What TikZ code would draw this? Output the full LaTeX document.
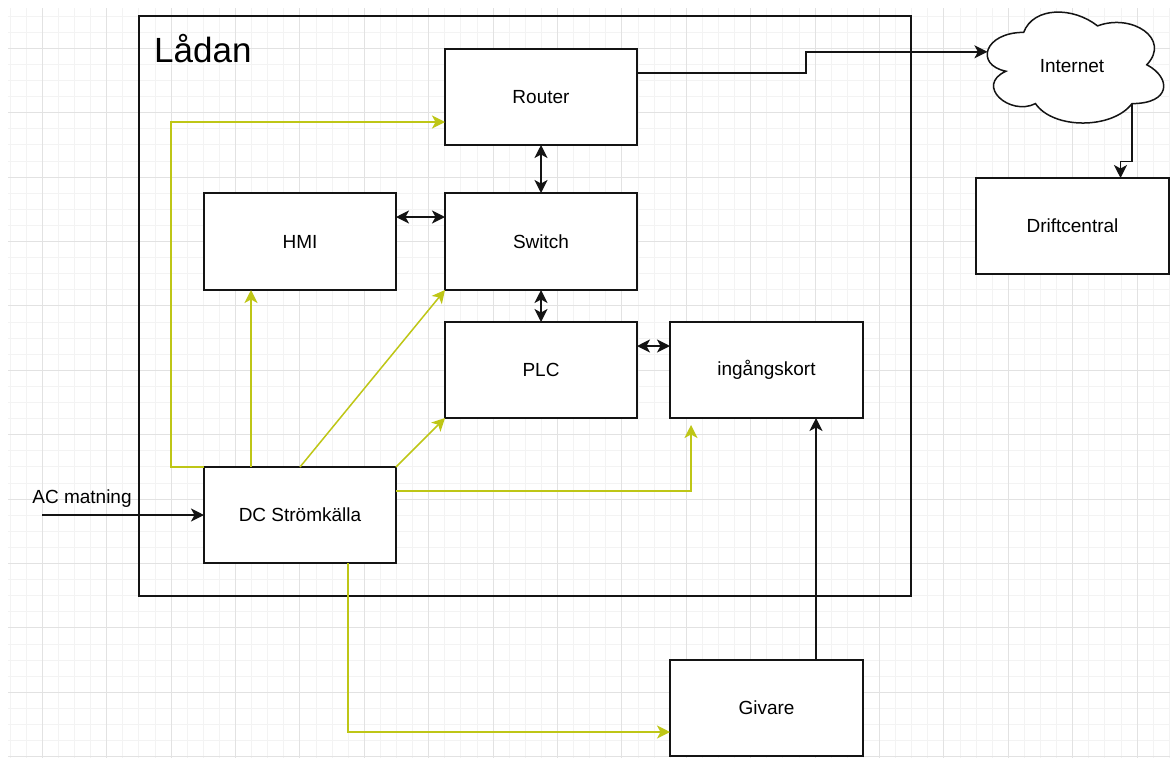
\documentclass[tikz,border=0pt]{standalone}
\usepackage{fontspec}
\setmainfont{Liberation Sans}
\usetikzlibrary{arrows.meta,calc}
\definecolor{ylw}{RGB}{190,198,22}
\definecolor{gminor}{RGB}{243,243,243}
\definecolor{gmajor}{RGB}{226,226,226}
\definecolor{edge}{RGB}{20,20,20}
\begin{document}
\begin{tikzpicture}[x=1pt,y=-1pt,
  box/.style={draw=edge, line width=1.5pt, fill=white, minimum width=192pt, minimum height=96pt,
    inner sep=0pt, outer sep=0pt, font=\fontsize{19}{22}\selectfont},
  conn/.style={draw=edge, line width=1.5pt, -{Stealth[length=13pt,width=13pt,inset=3.5pt]}},
  bidir/.style={draw=edge, line width=1.5pt, {Stealth[length=13pt,width=13pt,inset=3.5pt]}-{Stealth[length=13pt,width=13pt,inset=3.5pt]}},
  pwr/.style={draw=ylw, line width=1.5pt, -{Stealth[length=13pt,width=13pt,inset=3.5pt,color=ylw]}},
  lbl/.style={font=\fontsize{19}{22}\selectfont, inner sep=0pt}
]
\useasboundingbox[fill=white] (0,0) rectangle (1170,758);
% grid
\begin{scope}
\clip (8,8) rectangle (1170,758);
\foreach \i in {0,...,72} \draw[gminor, line width=1pt] (10.1+16.1*\i,8) -- (10.1+16.1*\i,758);
\foreach \i in {0,...,46} \draw[gminor, line width=1pt] (8,16.1+16.1*\i) -- (1170,16.1+16.1*\i);
\foreach \i in {0,...,17} \draw[gmajor, line width=1pt] (42.3+64.4*\i,8) -- (42.3+64.4*\i,758);
\foreach \i in {0,...,11} \draw[gmajor, line width=1pt] (8,48.3+64.4*\i) -- (1170,48.3+64.4*\i);
\end{scope}

% outer box
\node[draw=edge, line width=1.5pt, minimum width=772pt, minimum height=580pt, inner sep=0pt, outer sep=0pt] (ladan) at (525,306) {};
\node[anchor=base west, inner sep=0pt, font=\fontsize{35}{40}\selectfont] (ladant) at (154,62) {Lådan};

% cloud
\begin{scope}[shift={(974.4,0)}, x=197pt, y=-129.5pt]
\draw[edge, line width=1.5pt, fill=white] (0.25,0.25)
  .. controls (0.05,0.25) and (0,0.5) .. (0.16,0.55)
  .. controls (0,0.66) and (0.18,0.9) .. (0.31,0.8)
  .. controls (0.4,1) and (0.7,1) .. (0.8,0.8)
  .. controls (1,0.8) and (1,0.6) .. (0.875,0.5)
  .. controls (1,0.3) and (0.8,0.1) .. (0.625,0.2)
  .. controls (0.5,0.05) and (0.3,0.05) .. (0.25,0.25) -- cycle;
\coordinate (cloudin) at (0.066,0.40);
\coordinate (cloudout) at (0.8,0.8);
\end{scope}
\node[lbl] (internet) at (1072,66) {Internet};

% boxes
\node[box] (router) at (541,97) {Router};
\node[box, minimum height=97pt] (hmi) at (300,241.5) {HMI};
\node[box, minimum height=97pt] (switch) at (541,241.5) {Switch};
\node[box] (plc) at (541,370) {PLC};
\node[box, minimum width=193pt] (ingang) at (766.5,370) {ingångskort};
\node[box] (dc) at (300,515) {DC Strömkälla};
\node[box, minimum width=193pt] (givare) at (766.5,708) {Givare};
\node[box, minimum width=193pt] (drift) at (1072.5,226) {Driftcentral};

% AC input
\coordinate (acin) at (42,515);
\node[lbl] (acl) at (82,499) {AC matning};
\draw[conn] (acin) -- (dc.west);

% black connectors
\draw[conn] ([yshift=-24pt]router.north east) -- ++(169,0) |- (cloudin);
\draw[conn] (cloudout) -- ++(0,58) -| ([xshift=48pt]drift.north);
\draw[bidir] (router.south) -- (switch.north);
\draw[bidir] ([yshift=-24pt]hmi.north east) -- ([yshift=-24pt]switch.north west);
\draw[bidir] (switch.south) -- (plc.north);
\draw[bidir] ([yshift=-24pt]plc.north east) -- ([yshift=-24pt]ingang.north west);
\draw[conn] ([xshift=49.5pt]givare.north) -- ([xshift=49.5pt]ingang.south);

% power connectors
\draw[pwr] (dc.north west) -- ++(-33,0) |- ([yshift=-73pt]router.north west);
\draw[pwr] ([xshift=-49pt]dc.north) -- ([xshift=-49pt]hmi.south);
\draw[pwr] (dc.north) -- (switch.south west);
\draw[pwr] (dc.north east) -- (plc.south west);
\coordinate (ingpwr) at ([xshift=21pt,yshift=-7pt]ingang.south west);
\draw[pwr] ([yshift=-24pt]dc.north east) -| (ingpwr);
\draw[pwr] ([xshift=48pt]dc.south) |- ([yshift=-24pt]givare.west);
\end{tikzpicture}
\end{document}
